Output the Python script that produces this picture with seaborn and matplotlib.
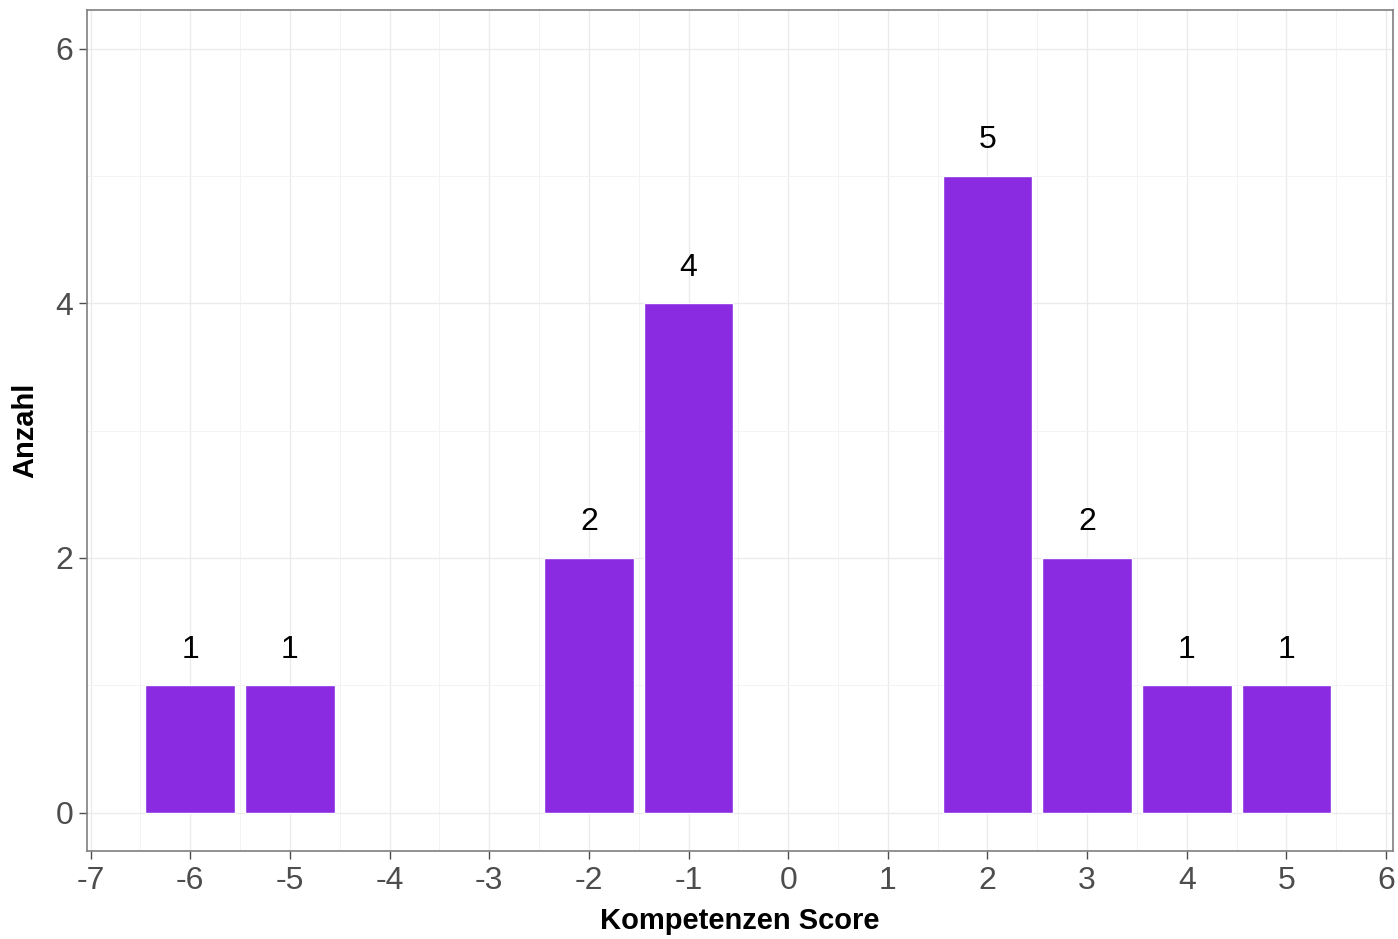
import pandas as pd
import matplotlib
matplotlib.use("Agg")
import matplotlib.pyplot as plt
import seaborn as sns

# Kompetenzen scores and counts
scores = [-6, -5, -2, -1, 2, 3, 4, 5]
counts = [1, 1, 2, 4, 5, 2, 1, 1]
x_ticks = list(range(-7, 7))
y_ticks = [0, 2, 4, 6]

df = pd.DataFrame({"Score": scores, "Anzahl": counts})

sns.set_theme(style="white")
plt.rcParams["font.family"] = ["Liberation Sans", "DejaVu Sans"]

fig = plt.figure(figsize=(13.98, 9.39), dpi=100)
ax = fig.add_axes([0.062, 0.094, 0.9344, 0.895])

sns.barplot(data=df, x="Score", y="Anzahl", native_scale=True, width=0.9,
            color="#8A2BE2", saturation=1, ax=ax, zorder=3)

for s, c in zip(scores, counts):
    ax.text(s, c + 0.28, str(c), ha="center", va="center", fontsize=23,
            color="black")

ax.set_xlim(-7.04, 6.07)
ax.set_ylim(-0.3, 6.3)
ax.set_xticks(x_ticks)
ax.set_xticklabels([str(t) for t in x_ticks])
ax.set_yticks(y_ticks)
ax.set_xticks([t + 0.5 for t in x_ticks[:-1]], minor=True)
ax.set_yticks([1, 3, 5], minor=True)

ax.grid(True, which="major", color="#EBEBEB", linewidth=1.0, zorder=0)
ax.grid(True, which="minor", color="#F3F3F3", linewidth=0.7, zorder=0)
ax.set_axisbelow(True)

for sp in ax.spines.values():
    sp.set_visible(True)
    sp.set_color("#7F7F7F")
    sp.set_linewidth(1.2)

ax.tick_params(axis="both", which="major", labelsize=23, labelcolor="#4D4D4D",
               color="#4D4D4D", length=6, width=1, bottom=True, left=True)
ax.tick_params(axis="x", which="major", pad=5)
ax.tick_params(axis="both", which="minor", length=0)

ax.set_xlabel("Kompetenzen Score", fontsize=21, fontweight="bold",
              color="black", labelpad=8)
ax.set_ylabel("Anzahl", fontsize=21, fontweight="bold", color="black",
              labelpad=12)

fig.savefig("out.png", dpi=100)
